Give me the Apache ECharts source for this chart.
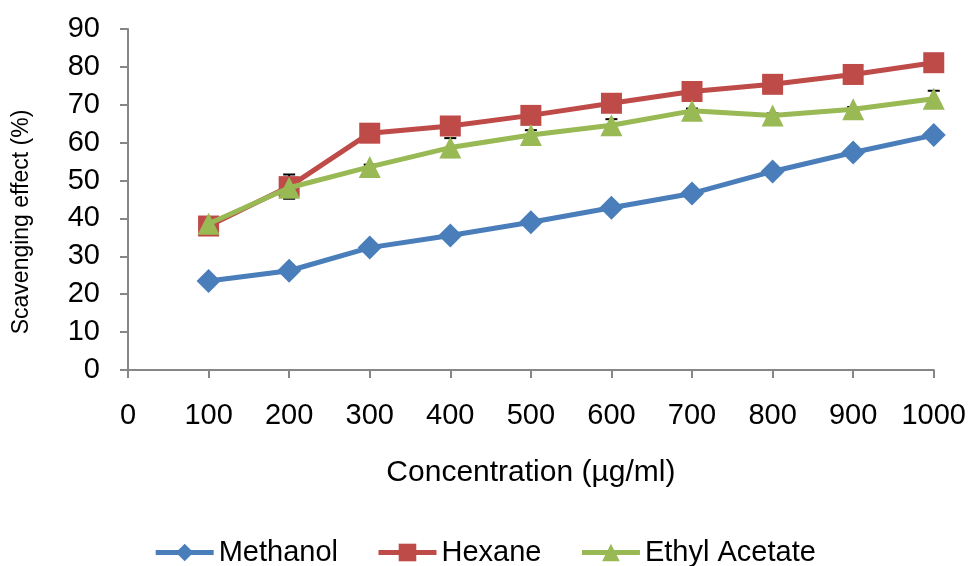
<!DOCTYPE html>
<html>
<head>
<meta charset="utf-8">
<script src="https://cdn.jsdelivr.net/npm/echarts@6/dist/echarts.min.js"></script>
<style>html,body{margin:0;padding:0;background:#fff;}#c{width:969px;height:566px;}</style>
</head>
<body>
<div id="c"></div>
<script>
var concentrations = [100, 200, 300, 400, 500, 600, 700, 800, 900, 1000];
var methanol = [23.5, 26.2, 32.3, 35.5, 39.0, 42.8, 46.6, 52.4, 57.4, 62.0];
var hexane = [38.0, 48.4, 62.5, 64.4, 67.2, 70.4, 73.5, 75.4, 78.0, 81.1];
var ethylAcetate = [38.6, 48.1, 53.6, 58.7, 62.0, 64.6, 68.4, 67.2, 68.8, 71.6];
var methanolErr = [0.5, 0.6, 0.5, 0.6, 0.5, 0.5, 0.6, 0.5, 0.5, 0.6];
var hexaneErr = [0.8, 3.2, 0.6, 0.6, 0.5, 0.6, 0.5, 0.5, 0.6, 0.5];
var ethylAcetateErr = [0.6, 0.8, 0.6, 2.5, 1.3, 1.6, 0.6, 0.5, 0.6, 2.1];
var seriesNames = ['Methanol', 'Hexane', 'Ethyl Acetate'];
var colors = ['#4A7EBB', '#BE4B48', '#98B954'];

function pairs(vals) { return concentrations.map(function (c, i) { return [c, vals[i]]; }); }
function errData(vals, errs) { return concentrations.map(function (c, i) { return [c, vals[i] - errs[i], vals[i] + errs[i]]; }); }

function errRender(params, api) {
  var x = api.value(0);
  var lo = api.coord([x, api.value(1)]);
  var hi = api.coord([x, api.value(2)]);
  var hw = 6;
  var st = { stroke: '#000', lineWidth: 2 };
  return { type: 'group', children: [
    { type: 'line', shape: { x1: lo[0], y1: lo[1], x2: hi[0], y2: hi[1] }, style: st },
    { type: 'line', shape: { x1: lo[0] - hw, y1: lo[1], x2: lo[0] + hw, y2: lo[1] }, style: st },
    { type: 'line', shape: { x1: hi[0] - hw, y1: hi[1], x2: hi[0] + hw, y2: hi[1] }, style: st }
  ]};
}

var font = 'Liberation Sans, Arial, sans-serif';
var chart = echarts.init(document.getElementById('c'), null, { renderer: 'canvas' });
var axisGray = '#868686';
var lineSeries = [
  { name: seriesNames[0], data: pairs(methanol), symbol: 'diamond', symbolSize: 24, color: colors[0] },
  { name: seriesNames[1], data: pairs(hexane), symbol: 'rect', symbolSize: 21, color: colors[1] },
  { name: seriesNames[2], data: pairs(ethylAcetate), symbol: 'triangle', symbolSize: 22, color: colors[2] }
].map(function (s, i) {
  return {
    type: 'line', name: s.name, data: s.data, symbol: s.symbol, symbolSize: s.symbolSize,
    showSymbol: true, z: 3 + i,
    lineStyle: { color: s.color, width: 5 },
    itemStyle: { color: s.color, borderWidth: 0 },
    animation: false
  };
});
var errSeries = [[methanol, methanolErr], [hexane, hexaneErr], [ethylAcetate, ethylAcetateErr]].map(function (p, i) {
  return { type: 'custom', name: seriesNames[i] + ' err', renderItem: errRender, data: errData(p[0], p[1]), z: 1, silent: true, animation: false, encode: { x: 0, y: [1, 2] } };
});

chart.setOption({
  backgroundColor: '#fff',
  animation: false,
  grid: { left: 128, right: 34, top: 29, bottom: 196, containLabel: false },
  legend: {
    data: seriesNames, left: 'center', top: 533, itemWidth: 58, itemHeight: 22, itemGap: 38,
    lineStyle: { width: 5 },
    textStyle: { fontFamily: font, fontSize: 29, color: '#000' }
  },
  xAxis: {
    type: 'value', min: 0, max: 1000, interval: 100,
    name: 'Concentration (µg/ml)', nameLocation: 'middle', nameGap: 88,
    nameTextStyle: { fontFamily: font, fontSize: 30, color: '#000' },
    axisLine: { show: true, lineStyle: { color: axisGray, width: 2 } },
    axisTick: { show: true, inside: false, length: 8, lineStyle: { color: axisGray, width: 2 } },
    axisLabel: { fontFamily: font, fontSize: 29, color: '#000', margin: 31, formatter: function (v) { return String(v); } },
    splitLine: { show: false }
  },
  yAxis: {
    type: 'value', min: 0, max: 90, interval: 10,
    axisLine: { show: true, lineStyle: { color: axisGray, width: 2 } },
    axisTick: { show: true, inside: false, length: 8, lineStyle: { color: axisGray, width: 2 } },
    axisLabel: { fontFamily: font, fontSize: 29, color: '#000', margin: 28, formatter: function (v) { return String(v); } },
    splitLine: { show: false }
  },
  graphic: [{
    type: 'text', x: 22, y: 222, rotation: Math.PI / 2,
    style: { text: 'Scavenging effect (%)', fontFamily: font, fontSize: 23, fill: '#000', align: 'center', verticalAlign: 'middle' }
  }],
  series: lineSeries.concat(errSeries)
});
</script>
</body>
</html>
